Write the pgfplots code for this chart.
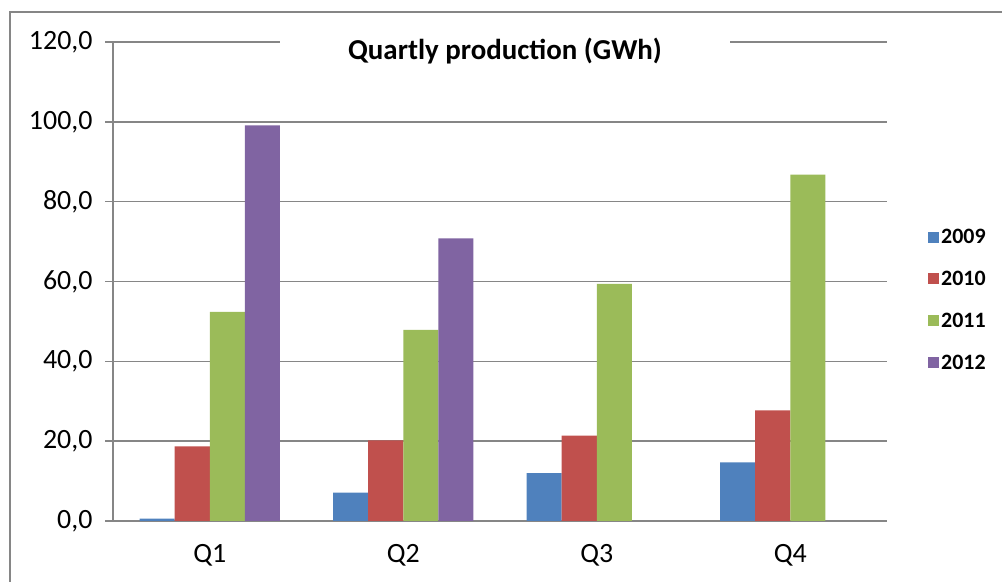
\documentclass[border=0pt]{standalone}
\usepackage{fontspec}
\setmainfont{Carlito}
\usepackage{pgfplots}
\pgfplotsset{compat=1.18}

\definecolor{c09}{HTML}{4F81BD}
\definecolor{c10}{HTML}{C0504D}
\definecolor{c11}{HTML}{9BBB59}
\definecolor{c12}{HTML}{8064A2}
\definecolor{gridgray}{HTML}{868686}

\begin{document}
\begin{tikzpicture}[x=1bp,y=1bp]
  \path[use as bounding box] (0,0) rectangle (1002,582);
  \draw[gridgray, line width=1.5bp] (10,0) -- (10,570) -- (1002,570);
  \begin{axis}[
    at={(113bp,61bp)}, anchor=south west,
    scale only axis, width=774bp, height=479bp,
    xmin=-0.5, xmax=3.5, ymin=0, ymax=120,
    axis lines*=left,
    axis line style={gridgray, line width=1.5bp},
    ymajorgrids,
    grid style={gridgray, line width=1.5bp},
    ytick={0,20,...,120},
    xtick={0,1,2,3},
    xticklabels={Q1,Q2,Q3,Q4},
    minor xtick={-0.5,0.5,1.5,2.5,3.5},
    tick align=outside,
    major tick length=8bp, minor tick length=8bp,
    xtick style={draw=none},
    minor x tick style={gridgray, line width=1.5bp},
    y tick style={gridgray, line width=1.5bp},
    tick label style={font=\fontsize{28}{33}\selectfont},
    yticklabel style={/pgf/number format/.cd, fixed, fixed zerofill, precision=1, use comma, assume math mode=true},
    yticklabel shift=9bp,
    xticklabel shift=12bp,
    ybar=0pt, bar width=0.181,
    legend style={at={(1.053,0.614)}, anchor=north west, draw=none, fill=none,
      inner sep=0pt, font=\bfseries\fontsize{22}{26}\selectfont,
      row sep=22bp, legend cell align=left},
    legend image code/.code={\fill[#1] (0bp,-5.5bp) rectangle (11bp,5.5bp);},
  ]
    \addplot[fill=c09, draw=none] coordinates {(0,0.6) (1,7.1) (2,12.0) (3,14.7)};
    \addplot[fill=c10, draw=none] coordinates {(0,18.7) (1,20.2) (2,21.4) (3,27.7)};
    \addplot[fill=c11, draw=none] coordinates {(0,52.4) (1,47.9) (2,59.4) (3,86.8)};
    \addplot[fill=c12, draw=none] coordinates {(0,99.1) (1,70.8)};
    \legend{2009,2010,2011,2012}
  \end{axis}
  \fill[white] (280,525) rectangle (730,555);
  \node[font=\bfseries\fontsize{29}{34}\selectfont] at (505,531) {Quartly production (GWh)};
\end{tikzpicture}
\end{document}
